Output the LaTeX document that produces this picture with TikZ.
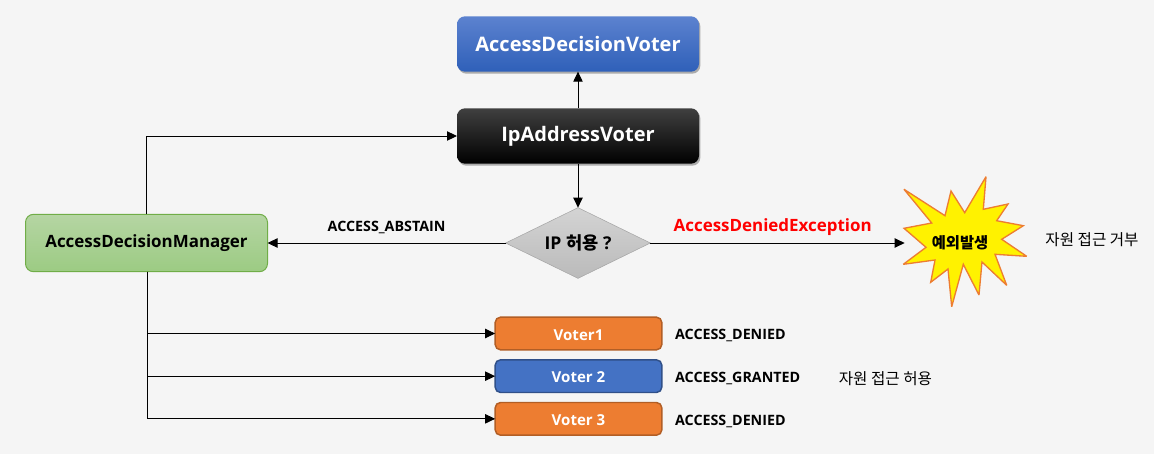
\documentclass[tikz,border=0pt]{standalone}
\usepackage{fontspec}
\setmainfont{Open Sans}
\newfontfamily\kr{Noto Sans CJK KR}
\usetikzlibrary{positioning, arrows.meta, shapes.geometric, shadows}
\definecolor{pagebg}{HTML}{F5F5F5}
\definecolor{voterorange}{HTML}{ED7D31}
\definecolor{voterblue}{HTML}{4472C4}
\tikzset{
    flow/.style={draw=black, line width=0.75pt, -{Triangle[length=7.5pt, width=7pt]}},
    softshadow/.style={drop shadow={shadow xshift=1pt, shadow yshift=-1.5pt, opacity=0.3, fill=black}},
    bigbox/.style={rounded corners=6pt, minimum width=181.5pt, minimum height=41.5pt, inner sep=0pt, outer sep=0pt, font=\bfseries\fontsize{15}{18}\selectfont},
    voterbox/.style={rounded corners=4pt, line width=1.1pt, minimum width=125pt, minimum height=24.5pt, inner sep=0pt, outer sep=0pt, text=white, text height=11pt, text depth=1pt, font=\bfseries\fontsize{11.3}{13}\selectfont},
    resultlabel/.style={inner sep=0pt, outer sep=0pt, font=\bfseries\fontsize{10.7}{13}\selectfont},
    notelabel/.style={inner sep=0pt, outer sep=0pt, font=\kr\fontsize{11.7}{14}\selectfont}
}
\begin{document}
\begin{tikzpicture}[x=0.75pt, y=-0.75pt]
    \fill [pagebg] (0,0) rectangle (1154,454);
    \useasboundingbox (0,0) rectangle (1154,454);

    \node (Ip) at (578,136) [bigbox, softshadow, text=white, top color=black!75, middle color=black, bottom color=black] {IpAddressVoter};
    \node (Adv) [bigbox, softshadow, text=white, top color={rgb,255:red,92;green,130;blue,207}, bottom color={rgb,255:red,47;green,96;blue,185}, above=27.5pt of Ip] {AccessDecisionVoter};
    \node (Mgr) at (146.5,243) [bigbox, draw={rgb,255:red,112;green,173;blue,71}, line width=0.75pt, top color={rgb,255:red,181;green,213;blue,163}, bottom color={rgb,255:red,156;green,203;blue,131}, minimum height=43pt, font=\bfseries\fontsize{12.7}{15}\selectfont] {AccessDecisionManager};
    \node (Ask) at (578,243) [diamond, draw=black!35, top color=black!17, bottom color=black!27, minimum width=108.5pt, minimum height=53pt, aspect=2, inner sep=0pt, outer sep=0pt, font=\bfseries\fontsize{13.2}{16}\selectfont] {IP {\kr 허용} ?};

    % Voters stacked under the diamond
    \node (V1) at (578.5,333.5) [voterbox, fill=voterorange, draw=voterorange!75!black] {Voter1};
    \node (V2) [voterbox, fill=voterblue, draw=voterblue!70!black, below=7.5pt of V1] {Voter 2};
    \node (V3) [voterbox, fill=voterorange, draw=voterorange!75!black, below=7.5pt of V2] {Voter 3};

    \node (R1) [resultlabel, right=10pt of V1, yshift=-1.6pt] {ACCESS\_DENIED};
    \node (R2) [resultlabel, right=10pt of V2, yshift=-1.6pt] {ACCESS\_GRANTED};
    \node (R3) [resultlabel, right=10pt of V3, yshift=-1.6pt] {ACCESS\_DENIED};
    \node (N2) [notelabel, right=29pt of R2] {자원 접근 허용};

    % Burst
    \draw [draw=voterorange, line width=1pt, fill=yellow, line join=miter, miter limit=3]
        (904,189.3) -- (945,215.7) -- (951,191) -- (964.7,212.7) -- (986,176.7) -- (983.3,209.3)
        -- (1008,204) -- (996.7,220.7) -- (1023.3,225.7) -- (1001.7,239.3) -- (1026.7,256.3)
        -- (995,254.3) -- (1006.7,285.3) -- (982,262) -- (979,295) -- (963.3,264.3)
        -- (951.7,306.7) -- (948,269) -- (930.7,282.3) -- (935,260) -- (903.3,264.3)
        -- (926,247.3) -- (904,228.3) -- (931.7,223) -- cycle;
    \node (Exc) at (960,243) [minimum width=83pt, minimum height=20pt, inner sep=0pt, outer sep=0pt, font=\kr\bfseries\fontsize{11.5}{14}\selectfont] {예외발생};
    \node (N1) at (1092,240) [notelabel] {자원 접근 거부};

    \draw [flow] (Ip) -- (Adv);
    \draw [flow] (Ip) -- (Ask);
    \draw [flow] (Ask) -- (Mgr) node [midway, above=7pt, resultlabel] {ACCESS\_ABSTAIN};
    \draw [flow] (Ask) -- (Exc) node [pos=0.09, above=5.5pt, anchor=south west, inner sep=0pt, text=red, font=\bfseries\fontsize{12.7}{15}\selectfont] {AccessDeniedException};
    \draw [flow] (Mgr.north) |- (Ip.west);
    \draw [flow] ([xshift=1pt]Mgr.south) |- (V1.west);
    \draw [flow] ([xshift=1pt]Mgr.south) |- (V2.west);
    \draw [flow] ([xshift=1pt]Mgr.south) |- (V3.west);
\end{tikzpicture}
\end{document}
